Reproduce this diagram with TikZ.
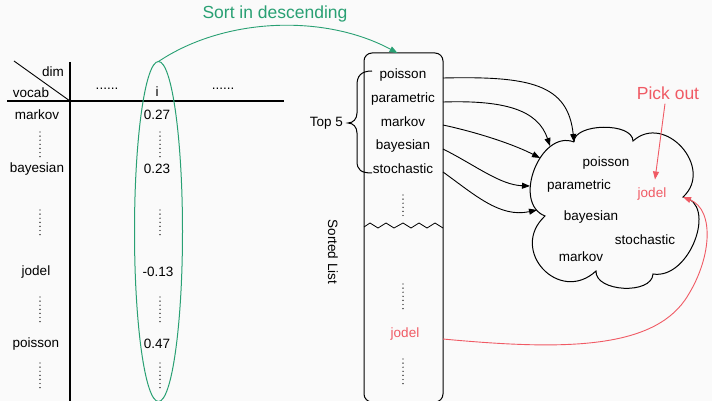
\documentclass[tikz,border=0pt]{standalone}
\usepackage{fontspec}
\setmainfont{Liberation Sans}
\usetikzlibrary{arrows.meta,shapes.geometric}
\definecolor{bg}{RGB}{250,250,250}
\definecolor{sortgreen}{RGB}{41,160,115}
\definecolor{pickred}{RGB}{240,90,100}
\begin{document}
\begin{tikzpicture}[x=1pt,y=-1pt,
  lbl/.style={inner sep=0pt, font=\fontsize{13.5}{16}\selectfont},
  big/.style={inner sep=0pt, font=\fontsize{17.5}{20}\selectfont},
  vdots/.style={line width=1.4pt, line cap=round, dash pattern=on 0pt off 4.1pt},
  rule/.style={line width=1.1pt},
  tip/.style={-{Triangle[length=8pt,width=6pt]}},
  link/.style={tip, line width=0.9pt},
]
\fill[bg] (0,0) rectangle (712,401);
\useasboundingbox (0,0) rectangle (712,401);

% ---- table of word vectors ----
\coordinate (tl) at (14,61);
\coordinate (corner) at (70,101);
\draw[rule] (70,62) -- (70,401);
\draw[rule] (7,101) -- (284,101);
\draw[line width=0.9pt] (tl) -- (corner);
\node[lbl] (dim) at (53,72) {dim};
\node[lbl] (vocab) at (31,93) {vocab};
\node[lbl] (hd1) at (107,89) {......};
\node[lbl] (hdi) at (157,92) {i};
\node[lbl] (hd2) at (223,89) {......};

\node[lbl] (w1) at (37,115) {markov};
\node[lbl] (w2) at (37,169) {bayesian};
\node[lbl] (w3) at (36,272) {jodel};
\node[lbl] (w4) at (36,344) {poisson};
\node[lbl] (v1) at (157,115) {0.27};
\node[lbl] (v2) at (157,169) {0.23};
\node[lbl] (v3) at (158,272) {-0.13};
\node[lbl] (v4) at (157,344) {0.47};
\foreach \ya/\yb in {132/157,210/235,297/323,363/388}{
  \draw[vdots] (40,\ya) -- (40,\yb);
  \draw[vdots] (160,\ya) -- (160,\yb);
}

% selected column
\node[draw=sortgreen, line width=1pt, ellipse, minimum width=48, minimum height=340,
      inner sep=0pt, outer sep=0pt] (col) at (158.5,231.5) {};

% ---- sorted list ----
\node[draw, line width=1pt, rounded corners=8pt, minimum width=79, minimum height=349,
      inner sep=0pt, outer sep=0pt] (box) at (403.5,227.5) {};
\node[lbl] (p1) at (403,75) {poisson};
\node[lbl] (p2) at (403,99) {parametric};
\node[lbl] (p3) at (403,122) {markov};
\node[lbl] (p4) at (403,146) {bayesian};
\node[lbl] (p5) at (403,169) {stochastic};
\node[lbl, text=pickred] (lj) at (405,334) {jodel};
\draw[vdots] (403,195) -- (403,219);
\draw[vdots] (403,284) -- (403,309);
\draw[vdots] (403,359) -- (403,384);
\draw[line width=0.8pt] (364,227) -- (370,223) -- (378,228) -- (386,223) -- (394,228)
  -- (403,223) -- (411,228) -- (419,223) -- (427,228) -- (435,223) -- (443,228);
\node[lbl, rotate=-90] (sl) at (333,252) {Sorted List};

% top five brace
\node[lbl, anchor=east] (top) at (343,123) {Top 5};
\draw[line width=1pt] (372,71) .. controls (361,71) and (357,76) .. (357,85) -- (357,113)
  .. controls (357,119) and (353,123) .. (348,123)
  .. controls (353,123) and (357,127) .. (357,133) -- (357,161)
  .. controls (357,170) and (361,173) .. (372,173);

% ---- sort arrow ----
\node[big, text=sortgreen] (sortlbl) at (275,14) {Sort in descending};
\draw[sortgreen, link] (col.north) .. controls (225,17) and (325,14) .. ([xshift=-6pt]box.north);

% ---- cloud of picked words ----
\coordinate (c1) at (574,142);
\coordinate (c2) at (633,141);
\coordinate (c3) at (683,197);
\coordinate (c4) at (653,274);
\coordinate (c5) at (596,271);
\coordinate (c6) at (545,216);
\draw[line width=1pt] (c1) .. controls (573.7,123) and (632.7,122) .. (c2)
  .. controls (664.8,112.1) and (714.8,168.1) .. (c3)
  .. controls (718,203) and (690,280) .. (c4)
  .. controls (651.9,295) and (594.9,292) .. (c5)
  .. controls (559.3,305) and (508.3,250) .. (c6)
  .. controls (511.5,202.9) and (540.5,128.9) .. (c1);
\coordinate (tpa) at (550,146);
\coordinate (tma) at (540,158);
\coordinate (tba) at (530,186);
\coordinate (tst) at (537,210);

\node[lbl] (k1) at (606,163) {poisson};
\node[lbl] (k2) at (579,186) {parametric};
\node[lbl, text=pickred] (kj) at (652,194) {jodel};
\node[lbl] (k3) at (591,217) {bayesian};
\node[lbl] (k4) at (645,240) {stochastic};
\node[lbl] (k5) at (581,257) {markov};

\draw[link] ([yshift=-3pt]box.east |- p1) .. controls (530,76) and (568,84) .. (c1);
\draw[link] ([yshift=-3pt]box.east |- p2) .. controls (505,100) and (538,110) .. (tpa);
\draw[link] ([yshift=-3pt]box.east |- p3) .. controls (480,133) and (515,145) .. (tma);
\draw[link] ([yshift=-3pt]box.east |- p4) .. controls (475,165) and (500,185) .. (tba);
\draw[link] ([yshift=-3pt]box.east |- p5) .. controls (475,195) and (500,218) .. (tst);

% ---- pick out ----
\node[big, text=pickred] (pick) at (668,93) {Pick out};
\draw[pickred, link] ([xshift=-3pt,yshift=-4pt]pick.south) -- ([xshift=3pt,yshift=8pt]kj.north);
\draw[pickred, link] ([yshift=-5pt]lj.east -| box.east) .. controls (560,350) and (650,350) .. (685,300)
  .. controls (712,260) and (715,210) .. (c3);
\end{tikzpicture}
\end{document}
